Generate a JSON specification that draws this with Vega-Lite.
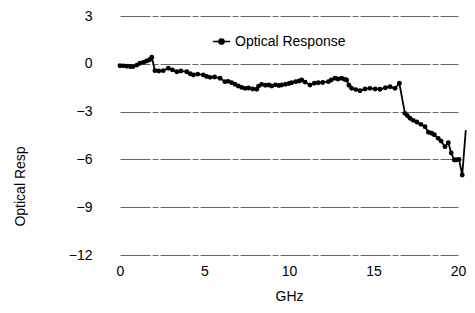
{
  "$schema": "https://vega.github.io/schema/vega-lite/v6.json",
  "width": 338,
  "height": 239,
  "autosize": {"type": "none"},
  "padding": {"left": 120, "top": 16, "right": 17, "bottom": 58},
  "background": "white",
  "config": {
    "view": {"stroke": null},
    "font": "Liberation Sans",
    "axis": {"labelFont": "Liberation Sans", "titleFont": "Liberation Sans", "labelColor": "#000", "titleColor": "#000"}
  },
  "data": {
    "values": [
      {"GHz": 0, "resp": -0.12}, {"GHz": 0.2, "resp": -0.13}, {"GHz": 0.4, "resp": -0.15},
      {"GHz": 0.6, "resp": -0.17}, {"GHz": 0.77, "resp": -0.18}, {"GHz": 1.0, "resp": -0.08},
      {"GHz": 1.18, "resp": 0.03}, {"GHz": 1.4, "resp": 0.1}, {"GHz": 1.58, "resp": 0.18},
      {"GHz": 1.75, "resp": 0.25}, {"GHz": 1.88, "resp": 0.41}, {"GHz": 2.07, "resp": -0.43},
      {"GHz": 2.3, "resp": -0.45}, {"GHz": 2.56, "resp": -0.43}, {"GHz": 2.86, "resp": -0.28},
      {"GHz": 3.1, "resp": -0.38}, {"GHz": 3.36, "resp": -0.5}, {"GHz": 3.6, "resp": -0.45},
      {"GHz": 3.95, "resp": -0.5}, {"GHz": 4.15, "resp": -0.62}, {"GHz": 4.34, "resp": -0.7},
      {"GHz": 4.6, "resp": -0.65}, {"GHz": 4.93, "resp": -0.7}, {"GHz": 5.13, "resp": -0.8},
      {"GHz": 5.33, "resp": -0.85}, {"GHz": 5.6, "resp": -0.83}, {"GHz": 5.92, "resp": -0.91},
      {"GHz": 6.21, "resp": -1.12}, {"GHz": 6.4, "resp": -1.1}, {"GHz": 6.61, "resp": -1.19},
      {"GHz": 6.8, "resp": -1.28}, {"GHz": 7.0, "resp": -1.39}, {"GHz": 7.2, "resp": -1.48},
      {"GHz": 7.4, "resp": -1.54}, {"GHz": 7.6, "resp": -1.52}, {"GHz": 7.85, "resp": -1.58},
      {"GHz": 8.09, "resp": -1.6}, {"GHz": 8.2, "resp": -1.4}, {"GHz": 8.38, "resp": -1.29},
      {"GHz": 8.6, "resp": -1.35}, {"GHz": 8.8, "resp": -1.33}, {"GHz": 8.98, "resp": -1.39},
      {"GHz": 9.2, "resp": -1.32}, {"GHz": 9.4, "resp": -1.36}, {"GHz": 9.57, "resp": -1.33},
      {"GHz": 9.8, "resp": -1.28}, {"GHz": 10.0, "resp": -1.24}, {"GHz": 10.16, "resp": -1.19},
      {"GHz": 10.4, "resp": -1.12}, {"GHz": 10.6, "resp": -1.08}, {"GHz": 10.75, "resp": -1.02},
      {"GHz": 10.95, "resp": -1.15}, {"GHz": 11.24, "resp": -1.33}, {"GHz": 11.5, "resp": -1.22},
      {"GHz": 11.73, "resp": -1.19}, {"GHz": 12.0, "resp": -1.17}, {"GHz": 12.33, "resp": -1.12},
      {"GHz": 12.5, "resp": -1.02}, {"GHz": 12.72, "resp": -0.91}, {"GHz": 12.9, "resp": -0.95},
      {"GHz": 13.12, "resp": -0.91}, {"GHz": 13.3, "resp": -0.98}, {"GHz": 13.41, "resp": -1.02},
      {"GHz": 13.55, "resp": -1.35}, {"GHz": 13.71, "resp": -1.54}, {"GHz": 13.95, "resp": -1.62},
      {"GHz": 14.2, "resp": -1.69}, {"GHz": 14.5, "resp": -1.58}, {"GHz": 14.79, "resp": -1.54},
      {"GHz": 15.1, "resp": -1.58}, {"GHz": 15.38, "resp": -1.6}, {"GHz": 15.7, "resp": -1.5},
      {"GHz": 15.98, "resp": -1.44}, {"GHz": 16.27, "resp": -1.54}, {"GHz": 16.53, "resp": -1.22},
      {"GHz": 16.86, "resp": -3.11}, {"GHz": 17.0, "resp": -3.25}, {"GHz": 17.16, "resp": -3.42},
      {"GHz": 17.35, "resp": -3.55}, {"GHz": 17.56, "resp": -3.65}, {"GHz": 17.8, "resp": -3.8},
      {"GHz": 18.05, "resp": -3.95}, {"GHz": 18.25, "resp": -4.3}, {"GHz": 18.44, "resp": -4.36},
      {"GHz": 18.6, "resp": -4.45}, {"GHz": 18.83, "resp": -4.68}, {"GHz": 19.0, "resp": -4.85},
      {"GHz": 19.23, "resp": -5.2}, {"GHz": 19.43, "resp": -4.95}, {"GHz": 19.6, "resp": -5.6},
      {"GHz": 19.78, "resp": -6.04}, {"GHz": 19.9, "resp": -6.02}, {"GHz": 20.06, "resp": -6.0},
      {"GHz": 20.25, "resp": -6.98}, {"GHz": 20.46, "resp": -4.16}
    ]
  },
  "encoding": {
    "x": {
      "field": "GHz", "type": "quantitative",
      "scale": {"domain": [0, 20], "nice": false, "zero": false},
      "axis": {
        "title": "GHz", "values": [0, 5, 10, 15, 20], "grid": false, "domain": false, "ticks": false,
        "labelFontSize": 14, "labelPadding": 9, "titleFontSize": 14, "titleFontWeight": "normal",
        "titlePadding": 11, "labelFlush": false
      }
    },
    "y": {
      "field": "resp", "type": "quantitative",
      "scale": {"domain": [-12, 3], "nice": false, "zero": false},
      "axis": {
        "title": "Optical Resp", "values": [3, 0, -3, -6, -9, -12], "grid": true,
        "gridColor": "#666", "gridWidth": 1, "gridDash": [30, 2, 6, 2],
        "domain": false, "ticks": false, "labelFontSize": 14, "labelPadding": 28,
        "titleFontSize": 14, "titleFontWeight": "normal",
        "titleX": -100, "titleY": 170, "titleAlign": "center", "titleBaseline": "middle", "titleAngle": -90
      }
    },
    "color": {
      "datum": "Optical Response",
      "scale": {"range": ["#000000"]},
      "legend": {
        "title": null, "orient": "none", "legendX": 92, "legendY": 16,
        "symbolType": "M -1 0 L 1 0 M 0.3 0 A 0.3 0.3 0 1 1 -0.3 0 A 0.3 0.3 0 1 1 0.3 0 Z",
        "symbolSize": 300, "symbolStrokeWidth": 1.5, "symbolFillColor": "#000", "symbolStrokeColor": "#000",
        "labelFontSize": 14, "labelFont": "Liberation Sans", "labelColor": "#000", "labelOffset": 4
      }
    }
  },
  "layer": [
    {"mark": {"type": "line", "strokeWidth": 1.8, "clip": false}},
    {
      "transform": [{"filter": "datum.GHz < 20.4"}],
      "mark": {"type": "point", "filled": true, "size": 24, "opacity": 1, "clip": false}
    }
  ]
}
